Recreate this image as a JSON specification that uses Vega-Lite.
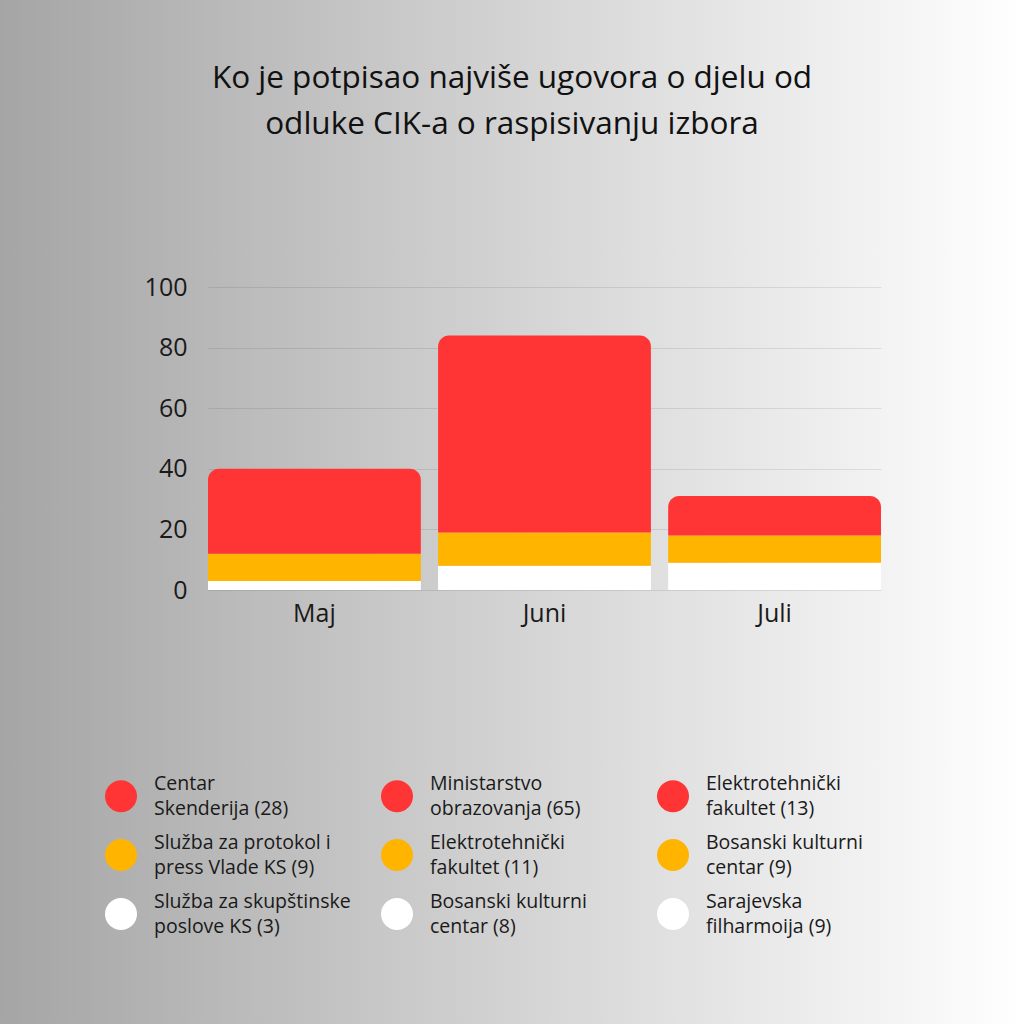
{
  "$schema": "https://vega.github.io/schema/vega-lite/v6.json",
  "width": 1024,
  "height": 1024,
  "autosize": "none",
  "padding": 0,
  "background": "#d2d2d2",
  "view": {
    "stroke": null,
    "fill": {
      "gradient": "linear",
      "x1": 0, "y1": 0, "x2": 1, "y2": 0,
      "stops": [
        {"offset": 0, "color": "#a5a5a5"},
        {"offset": 0.5, "color": "#d3d3d3"},
        {"offset": 1, "color": "#ffffff"}
      ]
    }
  },
  "title": {
    "text": ["Ko je potpisao najviše ugovora o djelu od", "odluke CIK-a o raspisivanju izbora"],
    "anchor": "middle",
    "frame": "group",
    "offset": -140,
    "font": "Open Sans",
    "fontSize": 31.5,
    "fontWeight": "normal",
    "color": "#111111",
    "lineHeight": 46
  },
  "data": {
    "values": [
      {"month": "Maj", "level": 1, "cat": "Služba za skupštinske|poslove KS (3)", "value": 3},
      {"month": "Maj", "level": 2, "cat": "Služba za protokol i|press Vlade KS (9)", "value": 9},
      {"month": "Maj", "level": 3, "cat": "Centar|Skenderija (28)", "value": 28},
      {"month": "Juni", "level": 1, "cat": "Bosanski kulturni|centar (8)", "value": 8},
      {"month": "Juni", "level": 2, "cat": "Elektrotehnički|fakultet (11)", "value": 11},
      {"month": "Juni", "level": 3, "cat": "Ministarstvo|obrazovanja (65)", "value": 65},
      {"month": "Juli", "level": 1, "cat": "Sarajevska|filharmoija (9)", "value": 9},
      {"month": "Juli", "level": 2, "cat": "Bosanski kulturni|centar (9)", "value": 9},
      {"month": "Juli", "level": 3, "cat": "Elektrotehnički|fakultet (13)", "value": 13}
    ]
  },
  "layer": [
    {
      "transform": [
        {"stack": "value", "groupby": ["month"], "sort": [{"field": "level", "order": "ascending"}], "as": ["y0", "y1"]},
        {"filter": "datum.level < 3"}
      ],
      "mark": {"type": "bar"},
      "encoding": {
        "x": {
          "field": "month", "type": "nominal",
          "scale": {"domain": ["Maj", "Juni", "Juli"], "range": [208, 881], "paddingInner": 0.075, "paddingOuter": 0},
          "axis": {
            "title": null, "orient": "bottom", "offset": -434, "domain": false, "ticks": false, "tickSize": 0,
            "labelPadding": 11, "labelFont": "Open Sans", "labelFontSize": 25, "labelColor": "#1a1a1a", "labelAngle": 0, "grid": false
          }
        },
        "y": {
          "field": "y0", "type": "quantitative",
          "scale": {"domain": [0, 100], "range": [590, 287], "nice": false, "zero": true},
          "axis": {
            "title": null, "values": [0, 20, 40, 60, 80, 100], "offset": -208, "domain": false, "ticks": false, "tickSize": 0,
            "labelPadding": 21, "labelFont": "Open Sans", "labelFontSize": 25, "labelColor": "#1a1a1a",
            "grid": true, "gridColor": "#000000", "gridOpacity": 0.09, "gridWidth": 1
          }
        },
        "y2": {"field": "y1"},
        "color": {
          "field": "cat", "type": "nominal",
          "scale": {
            "domain": [
              "Centar|Skenderija (28)", "Služba za protokol i|press Vlade KS (9)", "Služba za skupštinske|poslove KS (3)",
              "Ministarstvo|obrazovanja (65)", "Elektrotehnički|fakultet (11)", "Bosanski kulturni|centar (8)",
              "Elektrotehnički|fakultet (13)", "Bosanski kulturni|centar (9)", "Sarajevska|filharmoija (9)"
            ],
            "range": ["#ff3535", "#ffb400", "#ffffff", "#ff3535", "#ffb400", "#ffffff", "#ff3535", "#ffb400", "#ffffff"]
          },
          "legend": {
            "title": null,
            "orient": "none",
            "legendX": 105,
            "legendY": 780,
            "columns": 3,
            "gridAlign": "all",
            "columnPadding": 30,
            "rowPadding": 14,
            "padding": 0,
            "symbolType": "circle",
            "symbolSize": 1024,
            "symbolStrokeWidth": 0,
            "symbolOpacity": 1,
            "labelOffset": 17,
            "labelFont": "Open Sans",
            "labelFontSize": 19.5,
            "labelColor": "#1a1a1a",
            "labelLimit": 400,
            "labelExpr": "split(datum.label, '|')",
            "encode": {"labels": {"update": {"lineHeight": {"value": 25}, "dy": {"value": -12}}}}
          }
        }
      }
    },
    {
      "transform": [
        {"stack": "value", "groupby": ["month"], "sort": [{"field": "level", "order": "ascending"}], "as": ["y0", "y1"]},
        {"filter": "datum.level == 3"}
      ],
      "mark": {"type": "bar", "cornerRadiusTopLeft": 11, "cornerRadiusTopRight": 11},
      "encoding": {
        "x": {"field": "month", "type": "nominal"},
        "y": {"field": "y0", "type": "quantitative"},
        "y2": {"field": "y1"},
        "color": {"field": "cat", "type": "nominal"}
      }
    }
  ]
}
